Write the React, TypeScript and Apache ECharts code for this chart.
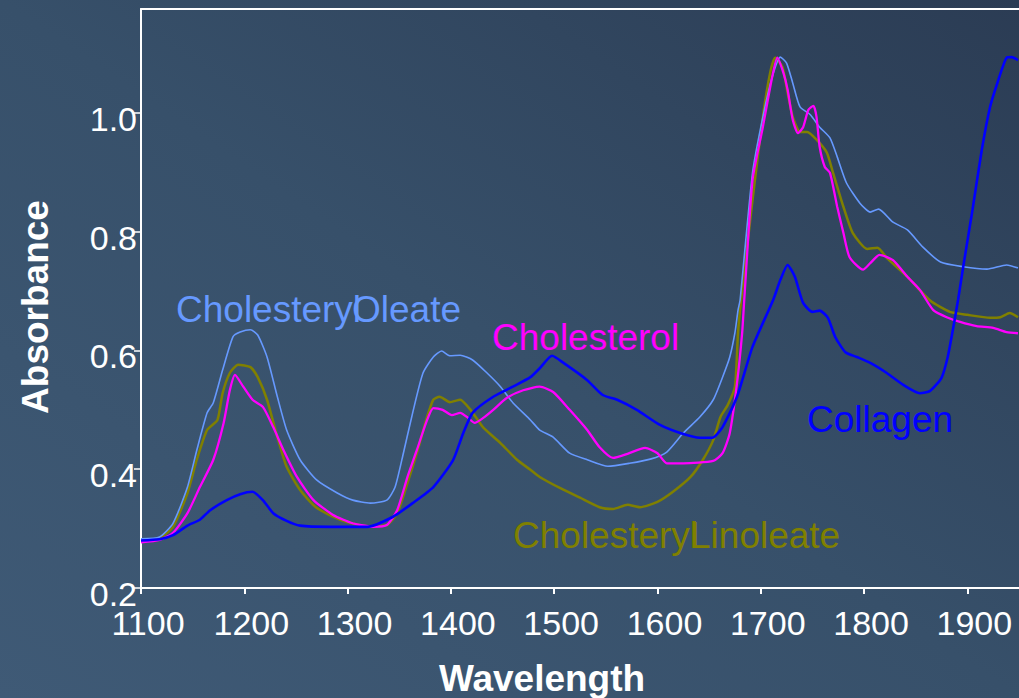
import React, { useEffect, useRef } from "react";
import * as echarts from "echarts";

const xTicks = [1100, 1200, 1300, 1400, 1500, 1600, 1700, 1800, 1900];
const yTicks = [0.2, 0.4, 0.6, 0.8, 1.0];

const collagen: [number, number][] = [
  [1100, 0.28], [1118, 0.282], [1131, 0.289], [1145, 0.305], [1157, 0.315], [1167, 0.331], [1183, 0.348],
  [1196, 0.358], [1208, 0.362], [1218, 0.348], [1228, 0.326], [1241, 0.313], [1254, 0.305], [1283, 0.303],
  [1319, 0.303], [1344, 0.32], [1363, 0.343], [1383, 0.37], [1402, 0.415], [1412, 0.461], [1421, 0.495],
  [1441, 0.522], [1460, 0.539], [1477, 0.555], [1486, 0.57], [1498, 0.591], [1509, 0.579], [1532, 0.55],
  [1547, 0.525], [1561, 0.517], [1580, 0.5], [1602, 0.475], [1622, 0.461], [1641, 0.453], [1653, 0.453],
  [1663, 0.471], [1677, 0.522], [1692, 0.606], [1712, 0.685], [1719, 0.719], [1726, 0.744], [1733, 0.724],
  [1741, 0.68], [1750, 0.665], [1757, 0.667], [1765, 0.655], [1772, 0.623], [1782, 0.597], [1793, 0.589],
  [1806, 0.579], [1822, 0.562], [1838, 0.542], [1854, 0.528], [1864, 0.532], [1875, 0.554], [1881, 0.589],
  [1886, 0.635], [1891, 0.685], [1896, 0.741], [1905, 0.837], [1914, 0.938], [1922, 1.01], [1929, 1.05],
  [1938, 1.093], [1943, 1.094], [1949, 1.089],
];

const cholesterol: [number, number][] = [
  [1100, 0.277], [1118, 0.281], [1131, 0.293], [1145, 0.326], [1157, 0.37], [1170, 0.416], [1180, 0.478],
  [1186, 0.533], [1191, 0.559], [1199, 0.539], [1208, 0.517], [1218, 0.505], [1228, 0.471], [1238, 0.432],
  [1251, 0.387], [1267, 0.348], [1286, 0.323], [1305, 0.309], [1325, 0.303], [1338, 0.306], [1348, 0.331],
  [1358, 0.387], [1367, 0.432], [1377, 0.483], [1383, 0.503], [1392, 0.5], [1401, 0.491], [1409, 0.495],
  [1417, 0.486], [1423, 0.478], [1431, 0.486], [1441, 0.5], [1454, 0.52], [1470, 0.533], [1486, 0.539],
  [1499, 0.53], [1515, 0.5], [1532, 0.466], [1544, 0.437], [1557, 0.419], [1571, 0.426], [1588, 0.436],
  [1600, 0.427], [1609, 0.41], [1625, 0.41], [1654, 0.414], [1663, 0.427], [1670, 0.461], [1677, 0.545],
  [1682, 0.63], [1684, 0.685], [1692, 0.887], [1702, 0.976], [1711, 1.06], [1716, 1.093], [1722, 1.067],
  [1726, 1.039], [1731, 0.988], [1736, 0.966], [1741, 0.976], [1746, 1.005], [1751, 1.012], [1754, 0.993],
  [1757, 0.943], [1762, 0.909], [1767, 0.899], [1774, 0.842], [1780, 0.798], [1786, 0.757], [1799, 0.736],
  [1806, 0.747], [1815, 0.761], [1828, 0.752], [1842, 0.724], [1854, 0.702], [1867, 0.668], [1880, 0.656],
  [1893, 0.648], [1909, 0.641], [1925, 0.638], [1938, 0.631], [1949, 0.629],
];

const cholesterylLinoleate: [number, number][] = [
  [1100, 0.279], [1118, 0.284], [1131, 0.303], [1145, 0.36], [1154, 0.416], [1164, 0.466], [1174, 0.483],
  [1179, 0.528], [1186, 0.562], [1194, 0.576], [1206, 0.572], [1213, 0.555], [1222, 0.517], [1232, 0.454],
  [1241, 0.404], [1254, 0.365], [1270, 0.335], [1293, 0.315], [1319, 0.304], [1338, 0.306], [1348, 0.326],
  [1358, 0.377], [1367, 0.427], [1377, 0.488], [1383, 0.517], [1389, 0.522], [1399, 0.513], [1409, 0.517],
  [1419, 0.5], [1431, 0.471], [1448, 0.444], [1464, 0.416], [1477, 0.399], [1486, 0.387], [1506, 0.368],
  [1525, 0.352], [1544, 0.336], [1557, 0.333], [1571, 0.34], [1583, 0.336], [1600, 0.345], [1615, 0.362],
  [1632, 0.387], [1644, 0.416], [1654, 0.449], [1661, 0.488], [1668, 0.508], [1675, 0.539], [1678, 0.63],
  [1681, 0.685], [1692, 0.853], [1702, 0.993], [1709, 1.067], [1714, 1.093], [1721, 1.077], [1726, 1.034],
  [1731, 0.993], [1738, 0.968], [1745, 0.968], [1754, 0.955], [1764, 0.933], [1770, 0.899], [1780, 0.842],
  [1789, 0.798], [1803, 0.771], [1813, 0.773], [1822, 0.756], [1842, 0.724], [1864, 0.684], [1883, 0.665],
  [1900, 0.66], [1922, 0.655], [1932, 0.656], [1941, 0.663], [1949, 0.656],
];

const cholesterylOleate: [number, number][] = [
  [1100, 0.283], [1118, 0.286], [1131, 0.309], [1145, 0.37], [1154, 0.432], [1164, 0.495], [1170, 0.512],
  [1179, 0.567], [1189, 0.623], [1196, 0.631], [1206, 0.635], [1213, 0.626], [1222, 0.589], [1232, 0.522],
  [1241, 0.466], [1254, 0.416], [1270, 0.382], [1290, 0.36], [1305, 0.348], [1322, 0.343], [1338, 0.348],
  [1346, 0.37], [1354, 0.427], [1363, 0.495], [1373, 0.562], [1383, 0.589], [1391, 0.599], [1399, 0.591],
  [1409, 0.592], [1421, 0.584], [1435, 0.562], [1448, 0.539], [1460, 0.512], [1477, 0.483], [1486, 0.466],
  [1499, 0.454], [1515, 0.427], [1532, 0.416], [1552, 0.405], [1573, 0.41], [1593, 0.417], [1609, 0.429],
  [1625, 0.461], [1641, 0.488], [1654, 0.517], [1663, 0.555], [1670, 0.589], [1675, 0.63], [1678, 0.668],
  [1680, 0.685], [1692, 0.899], [1702, 0.993], [1711, 1.06], [1719, 1.094], [1725, 1.084], [1731, 1.05],
  [1738, 1.01], [1748, 0.997], [1757, 0.976], [1767, 0.958], [1774, 0.926], [1783, 0.882], [1796, 0.848],
  [1806, 0.833], [1814, 0.838], [1828, 0.816], [1842, 0.803], [1857, 0.774], [1874, 0.749], [1896, 0.741],
  [1919, 0.737], [1938, 0.744], [1949, 0.739],
];

const FONT = "'Liberation Sans', Arial, sans-serif";

export default function App() {
  const ref = useRef<HTMLDivElement>(null);
  useEffect(() => {
    if (!ref.current) return;
    const chart = echarts.init(ref.current, null, { renderer: "svg" });
    const lineSeries = (name: string, data: [number, number][], color: string, width: number) => ({
      name,
      type: "line",
      data,
      showSymbol: false,
      symbol: "none",
      smooth: 0.2,
      lineStyle: { color, width },
      itemStyle: { color },
      emphasis: { disabled: true },
      clip: true,
    });
    const annotation = (text: string, x: number, y: number, color: string) => ({
      type: "text",
      x,
      y,
      z: 10,
      style: {
        text,
        fill: color,
        font: `37px ${FONT}`,
        textAlign: "left",
        textVerticalAlign: "middle",
      },
    });
    chart.setOption({
      animation: false,
      backgroundColor: new echarts.graphic.LinearGradient(0, 1, 1, 0, [
        { offset: 0, color: "#3f5a76" },
        { offset: 0.5, color: "#37506a" },
        { offset: 1, color: "#2b3c54" },
      ]),
      grid: { left: 141, top: 9, right: 0, bottom: 110, containLabel: false },
      xAxis: [
        {
          type: "value",
          min: 1100,
          max: 1950,
          interval: 100,
          axisLine: { show: true, lineStyle: { color: "#ffffff", width: 2 } },
          axisTick: { show: true, length: 6, inside: false, lineStyle: { color: "#ffffff", width: 2 }, customValues: xTicks },
          axisLabel: {
            customValues: xTicks,
            color: "#ffffff",
            fontSize: 34,
            fontFamily: FONT,
            margin: 18,
            padding: [0, 0, 0, 14],
            formatter: (v: number) => String(v),
          },
          splitLine: { show: false },
        },
        {
          type: "value",
          position: "top",
          min: 1100,
          max: 1950,
          axisLine: { show: true, lineStyle: { color: "#ffffff", width: 2 } },
          axisTick: { show: false },
          axisLabel: { show: false },
          splitLine: { show: false },
        },
      ],
      yAxis: {
        type: "value",
        min: 0.2,
        max: 1.175,
        interval: 0.2,
        axisLine: { show: true, lineStyle: { color: "#ffffff", width: 2 } },
        axisTick: { show: true, length: 7, lineStyle: { color: "#ffffff", width: 1.5 }, customValues: yTicks },
        axisLabel: {
          customValues: yTicks,
          color: "#ffffff",
          fontSize: 34,
          fontFamily: FONT,
          margin: 4,
          verticalAlign: "top",
          lineHeight: 12,
          formatter: (v: number) => v.toFixed(1),
        },
        splitLine: { show: false },
      },
      series: [
        lineSeries("Cholesteryl Linoleate", cholesterylLinoleate, "#808000", 2.5),
        lineSeries("Cholesteryl Oleate", cholesterylOleate, "#6699ff", 1.6),
        lineSeries("Cholesterol", cholesterol, "#ff00ff", 2.3),
        lineSeries("Collagen", collagen, "#0000ff", 2.6),
      ],
      graphic: [
        {
          type: "text",
          x: 35,
          y: 307,
          rotation: Math.PI / 2,
          style: {
            text: "Absorbance",
            fill: "#ffffff",
            font: `bold 37px ${FONT}`,
            textAlign: "center",
            textVerticalAlign: "middle",
          },
        },
        {
          type: "text",
          x: 542,
          y: 678,
          style: {
            text: "Wavelength",
            fill: "#ffffff",
            font: `bold 37px ${FONT}`,
            textAlign: "center",
            textVerticalAlign: "middle",
          },
        },
        annotation("Cholesteryl", 176, 309, "#6699ff"),
        annotation("Oleate", 352, 309, "#6699ff"),
        annotation("Cholesterol", 492, 337, "#ff00ff"),
        annotation("Cholesteryl", 513, 535, "#808000"),
        annotation("Linoleate", 690, 535, "#808000"),
        annotation("Collagen", 807, 419, "#0000ff"),
      ],
    });
    return () => chart.dispose();
  }, []);
  return (
    <div
      ref={ref}
      style={{ position: "fixed", left: 0, top: 0, width: 1019, height: 698 }}
    />
  );
}
